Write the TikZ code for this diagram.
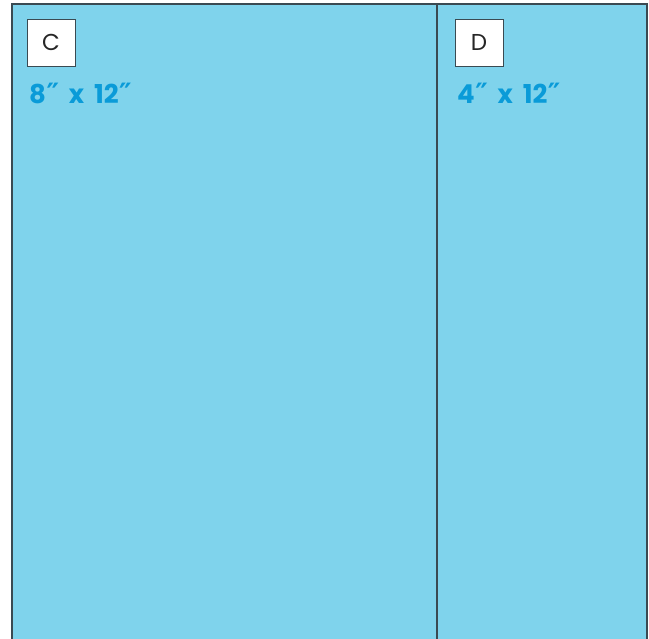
\documentclass[tikz,border=0pt]{standalone}
\usepackage{fontspec}
\setmainfont{Poppins}
\newfontfamily\primefont{DejaVu Sans}
\newcommand{\dprime}{\kern0.5pt{\primefont\bfseries\fontsize{28}{30}\selectfont ″}}
\definecolor{panelfill}{HTML}{7FD3EC}
\definecolor{edgecol}{HTML}{3A4A52}
\definecolor{sizecol}{HTML}{0A9BD8}
\tikzset{
  panel/.style={fill=panelfill,draw=none},
  edge/.style={draw=edgecol,line width=1.2pt},
  letterbox/.style={draw=edgecol,fill=white,line width=0.8pt,minimum width=48pt,minimum height=47pt,inner sep=0pt,font=\fontsize{23}{25}\selectfont\color{black!85}},
  sizelabel/.style={anchor=base west,inner sep=0pt,text=sizecol,font=\fontsize{26}{28}\selectfont\bfseries}
}
\begin{document}
\begin{tikzpicture}[x=1pt,y=-1pt]
\useasboundingbox (0,0) rectangle (649,639);
\fill[white] (0,0) rectangle (649,639);
\fill[panelfill] (12,4) rectangle (647,639);
\draw[edge] (12,639) -- (12,4) -- (647,4) -- (647,639);
\draw[edge] (437,4) -- (437,639);
\node[letterbox] (c) at (51,42.5) {C};
\node[letterbox] (d) at (479,42.5) {D};
\node[sizelabel] (csize) at (29,104) {8\dprime\ \,x\ \,12\dprime};
\node[sizelabel] (dsize) at (457,104) {4\dprime\ \,x\ \,12\dprime};
\end{tikzpicture}
\end{document}
